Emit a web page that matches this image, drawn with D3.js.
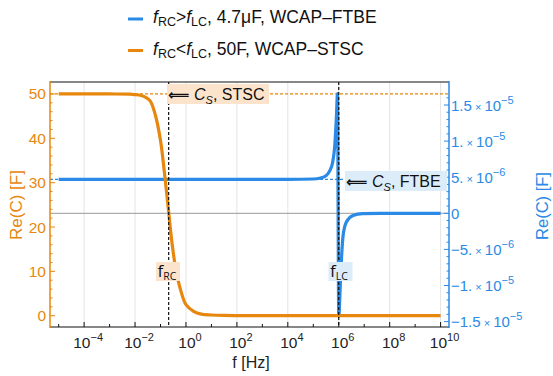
<!DOCTYPE html>
<html><head><meta charset="utf-8">
<script src="https://cdn.jsdelivr.net/npm/d3@7/dist/d3.min.js"></script>
<style>
body{margin:0;background:#fff;}
svg{display:block;font-family:"Liberation Sans",Arial,sans-serif;}
</style></head>
<body>
<svg id="chart" width="553" height="376"></svg>
<script>
// ---- data (log10 of frequency in Hz, capacitance) ----
const orangeLogF = [-5, -3, -2.2, -2, -1.8, -1.6, -1.4, -1.2, -1.0, -0.85, -0.7, -0.55, -0.4, -0.2, 0, 0.3, 0.6, 1, 1.5, 2, 4, 6, 8, 10];
const orangeC    = [50, 50, 49.95, 49.85, 49.7, 49.3, 48.4, 45.2, 39.5, 32.5, 24.5, 16.5, 10.5, 5.6, 2.5, 1.0, 0.35, 0.15, 0.05, 0.02, 0, 0, 0, 0];
const blueLogF = [-5, 0, 4, 5, 5.25, 5.5, 5.65, 5.75, 5.84, 5.91, 5.95, 6.0, 6.06, 6.10, 6.17, 6.3, 6.56, 6.94, 7.6, 10];
const blueC    = [4.7e-6, 4.7e-6, 4.7e-6, 4.75e-6, 4.85e-6, 5.2e-6, 5.9e-6, 6.9e-6, 9.2e-6, 13.5e-6, 16.6e-6, -14.3e-6, -10.0e-6, -6.8e-6, -3.1e-6, -1.2e-6, -0.3e-6, -0.05e-6, 0, 0];
const xTickExps = [-4, -2, 0, 2, 4, 6, 8, 10];
const leftTicks = [0, 10, 20, 30, 40, 50];
const rightTicks = [1.5e-5, 1e-5, 5e-6, 0, -5e-6, -1e-5, -1.5e-5];
const rightTickMant = ["1.5", "1.", "5.", "0", "\u22125.", "\u22121.", "\u22121.5"];
const rightTickExp  = ["\u22125", "\u22125", "\u22126", "", "\u22126", "\u22125", "\u22125"];
const csSTSC = 50, csFTBE = 4.7e-6;
const fRCexp = -0.68, fLCexp = 6.0;

const ORANGE = "#E8870E", BLUE = "#2A8AE5";
const svg = d3.select("#chart");
const L = 50, R = 449, T = 82, B = 327;

const x = d3.scaleLog().domain([Math.pow(10, -5.34), Math.pow(10, 10.33)]).range([L, R]);
const yL = d3.scaleLinear().domain([-2.55, 52.7]).range([B, T]);
const yR = d3.scaleLinear().domain([-15.75e-6, 18.19e-6]).range([B, T]);

svg.append("defs").append("clipPath").attr("id", "clip")
  .append("rect").attr("x", L).attr("y", T).attr("width", R - L).attr("height", B - T);

// grid
svg.append("g").selectAll("line").data(xTickExps).join("line")
  .attr("x1", d => x(Math.pow(10, d))).attr("x2", d => x(Math.pow(10, d)))
  .attr("y1", T).attr("y2", B).attr("stroke", "#e4e4e4").attr("stroke-width", 1);

// zero line of right axis
svg.append("line").attr("x1", L).attr("x2", R).attr("y1", yR(0)).attr("y2", yR(0))
  .attr("stroke", "#999").attr("stroke-width", 1);

// dashed horizontal Cs lines
svg.append("line").attr("x1", L).attr("x2", R).attr("y1", yL(csSTSC)).attr("y2", yL(csSTSC))
  .attr("stroke", ORANGE).attr("stroke-width", 1.2).attr("stroke-dasharray", "3,2");
svg.append("line").attr("x1", L).attr("x2", 345).attr("y1", yR(csFTBE)).attr("y2", yR(csFTBE))
  .attr("stroke", BLUE).attr("stroke-width", 1.2).attr("stroke-dasharray", "3,2");

const plot = svg.append("g").attr("clip-path", "url(#clip)");
const blueData = blueLogF.map((e, i) => [Math.pow(10, e), blueC[i]]);
const orangeData = orangeLogF.map((e, i) => [Math.pow(10, e), orangeC[i]]);
plot.append("path").datum(blueData)
  .attr("d", d3.line().x(d => x(d[0])).y(d => yR(d[1])).curve(d3.curveMonotoneX))
  .attr("fill", "none").attr("stroke", BLUE).attr("stroke-width", 3.2);
plot.append("path").datum(orangeData)
  .attr("d", d3.line().x(d => x(d[0])).y(d => yL(d[1])).curve(d3.curveCatmullRom.alpha(0.5)))
  .attr("fill", "none").attr("stroke", ORANGE).attr("stroke-width", 3.2);

// vertical dashed lines
[fRCexp, fLCexp].forEach(e => {
  svg.append("line").attr("x1", x(Math.pow(10, e))).attr("x2", x(Math.pow(10, e)))
    .attr("y1", T).attr("y2", B).attr("stroke", "#111").attr("stroke-width", 1.2)
    .attr("stroke-dasharray", "3,2");
});

// frame
svg.append("line").attr("x1", L).attr("x2", R).attr("y1", T).attr("y2", T).attr("stroke", "#111").attr("stroke-width", 1.2);
svg.append("line").attr("x1", L).attr("x2", R).attr("y1", B).attr("y2", B).attr("stroke", "#111").attr("stroke-width", 1.2);
svg.append("line").attr("x1", L).attr("x2", L).attr("y1", T - 1).attr("y2", B + 1).attr("stroke", ORANGE).attr("stroke-width", 1.5);
svg.append("line").attr("x1", R).attr("x2", R).attr("y1", T - 1).attr("y2", B + 1).attr("stroke", BLUE).attr("stroke-width", 1.5);

// bottom ticks
const bt = svg.append("g");
d3.range(-5, 11).forEach(e => {
  const major = xTickExps.includes(e);
  bt.append("line").attr("x1", x(Math.pow(10, e))).attr("x2", x(Math.pow(10, e)))
    .attr("y1", B).attr("y2", B - (major ? 5 : 3)).attr("stroke", "#111").attr("stroke-width", 1);
});
xTickExps.forEach(e => {
  const t = bt.append("text").attr("x", x(Math.pow(10, e)) + 4).attr("y", 348)
    .attr("text-anchor", "middle").attr("font-size", 15.5).attr("fill", "#222");
  t.append("tspan").text("10");
  t.append("tspan").attr("dy", -7).attr("font-size", 11).text(e < 0 ? "\u2212" + Math.abs(e) : String(e));
});
svg.append("text").attr("x", 251).attr("y", 368).attr("text-anchor", "middle")
  .attr("font-size", 16).attr("fill", "#222").text("f [Hz]");

// left axis
const la = svg.append("g");
d3.range(0, 51, 2).forEach(v => {
  const major = v % 10 === 0;
  la.append("line").attr("x1", L).attr("x2", L + (major ? 5 : 2.5))
    .attr("y1", yL(v)).attr("y2", yL(v)).attr("stroke", ORANGE).attr("stroke-width", 1);
});
leftTicks.forEach(v => {
  la.append("text").attr("x", L - 4).attr("y", yL(v) + 5.5).attr("text-anchor", "end")
    .attr("font-size", 15.5).attr("fill", ORANGE).text(v);
});
svg.append("text").attr("transform", "translate(22,205) rotate(-90)").attr("text-anchor", "middle")
  .attr("font-size", 17).attr("fill", ORANGE).text("Re(C) [F]");

// right axis
const ra = svg.append("g");
d3.range(-15, 17, 1).forEach(v => {
  const major = v % 5 === 0;
  ra.append("line").attr("x1", R).attr("x2", R - (major ? 5 : 2.5))
    .attr("y1", yR(v * 1e-6)).attr("y2", yR(v * 1e-6)).attr("stroke", BLUE).attr("stroke-width", 1);
});
rightTicks.forEach((v, i) => {
  const t = ra.append("text").attr("x", R + 2).attr("y", yR(v) + 5.5)
    .attr("font-size", 15).attr("fill", BLUE);
  t.append("tspan").text(rightTickMant[i]);
  if (rightTickExp[i]) {
    t.append("tspan").attr("font-size", 11).text(" \u00d7 ");
    t.append("tspan").text("10");
    t.append("tspan").attr("dy", -7).attr("font-size", 11).text(rightTickExp[i]);
  }
});
svg.append("text").attr("transform", "translate(548,206) rotate(-90)").attr("text-anchor", "middle")
  .attr("font-size", 16.5).attr("fill", BLUE).text("Re(C) [F]");

// annotation boxes
function csLabel(x0, yTop, w, fill, name) {
  svg.append("rect").attr("x", x0).attr("y", yTop).attr("width", w).attr("height", 20).attr("fill", fill);
  const t = svg.append("text").attr("x", x0 + 1).attr("y", yTop + 15.5).attr("font-size", 16).attr("fill", "#111");
  t.append("tspan").attr("font-family", "DejaVu Sans").attr("font-weight", "bold").attr("font-size", 15).text("\u27f8");
  t.append("tspan").text(" ");
  t.append("tspan").attr("font-style", "italic").text("C");
  t.append("tspan").attr("font-style", "italic").attr("font-size", 11).attr("dy", 4).text("S");
  t.append("tspan").attr("dy", -4).text(", " + name);
}
csLabel(167, 84, 102, "#FCE4CC", "STSC");
csLabel(345, 171, 102, "#DDECF9", "FTBE");

function fLabel(cx, fill, sub) {
  svg.append("rect").attr("x", cx - 12).attr("y", 262).attr("width", 24).attr("height", 19).attr("fill", fill);
  const t = svg.append("text").attr("x", cx - 10.5).attr("y", 276.5).attr("font-size", 17)
    .attr("font-family", "Open Sans, sans-serif").attr("fill", "#111");
  t.append("tspan").text("f");
  t.append("tspan").attr("font-size", 10.5).attr("dy", 3).text(sub);
}
fLabel(168, "#FCE4CC", "RC");
fLabel(340.5, "#DDECF9", "LC");

// legend
const legendRows = [
  {color: BLUE, y: 19, op: ">", rest: ", 4.7\u03bcF, WCAP\u2013FTBE"},
  {color: ORANGE, y: 50.5, op: "<", rest: ", 50F, WCAP\u2013STSC"}
];
legendRows.forEach(r => {
  svg.append("line").attr("x1", 128).attr("x2", 143).attr("y1", r.y).attr("y2", r.y)
    .attr("stroke", r.color).attr("stroke-width", 3);
  const t = svg.append("text").attr("x", 153).attr("y", r.y + 4).attr("font-size", 17.5).attr("fill", "#111");
  t.append("tspan").attr("font-style", "italic").text("f");
  t.append("tspan").attr("font-size", 12.5).attr("dy", 3).text("RC");
  t.append("tspan").attr("dy", -3).text(r.op);
  t.append("tspan").attr("font-style", "italic").text("f");
  t.append("tspan").attr("font-size", 12.5).attr("dy", 3).text("LC");
  t.append("tspan").attr("dy", -3).text(r.rest);
});
</script>
</body></html>
